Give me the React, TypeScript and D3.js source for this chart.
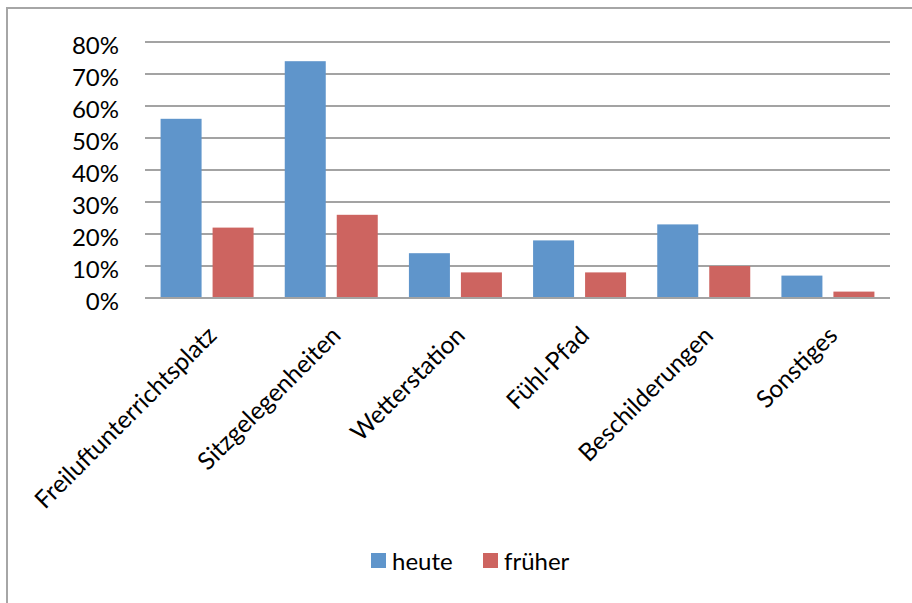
import React from "react";
import * as d3 from "d3";

const categories = [
  "Freiluftunterrichtsplatz",
  "Sitzgelegenheiten",
  "Wetterstation",
  "Fühl-Pfad",
  "Beschilderungen",
  "Sonstiges",
];
const seriesNames = ["heute", "früher"];
const heute = [56, 74, 14, 18, 23, 7];
const frueher = [22, 26, 8, 8, 10, 2];
const yTicks = [0, 10, 20, 30, 40, 50, 60, 70, 80];
const colors = ["#5F95CB", "#CD6460"];

const W = 912;
const H = 603;
const FONT = "Lato, 'Open Sans', sans-serif";

export default function App() {
  const x0 = d3.scaleBand<string>().domain(categories).range([145, 890]).padding(0);
  const y = d3.scaleLinear().domain([0, 80]).range([298, 42]);
  const x1 = d3
    .scaleBand<string>()
    .domain(seriesNames)
    .range([-46.5, 46.5])
    .paddingInner(11 / 52)
    .paddingOuter(0);
  const values = [heute, frueher];

  return (
    <svg
      width={W}
      height={H}
      style={{ position: "absolute", left: 0, top: 0, background: "#fff" }}
      fontFamily={FONT}
    >
      <rect x={7} y={8} width={W + 20} height={H + 20} fill="#fff" stroke="#A6A6A6" strokeWidth={2} />

      {yTicks.map((t) => (
        <g key={t}>
          <line x1={145} x2={890} y1={y(t)} y2={y(t)} stroke="#A3A3A3" strokeWidth={2} />
          <text x={119} y={y(t) + 12} textAnchor="end" fontSize={24} fill="#000">
            {`${t}%`}
          </text>
        </g>
      ))}

      {categories.map((c, i) => {
        const cx = (x0(c) ?? 0) + x0.bandwidth() / 2;
        return (
          <g key={c}>
            {seriesNames.map((s, k) => {
              const v = values[k][i];
              const bx = cx + (x1(s) ?? 0);
              return (
                <rect
                  key={s}
                  x={bx}
                  y={y(v)}
                  width={x1.bandwidth()}
                  height={y(0) - y(v)}
                  fill={colors[k]}
                />
              );
            })}
          </g>
        );
      })}

      <line x1={145} x2={890} y1={y(0)} y2={y(0)} stroke="#A3A3A3" strokeWidth={2} />

      {categories.map((c) => {
        const cx = (x0(c) ?? 0) + x0.bandwidth() / 2;
        return (
          <text
            key={c}
            transform={`translate(${cx + 11},${337}) rotate(-45)`}
            textAnchor="end"
            fontSize={24.5}
            fill="#000"
          >
            {c}
          </text>
        );
      })}

      {seriesNames.map((s, k) => {
        const lx = [371, 483][k];
        return (
          <g key={s}>
            <rect x={lx} y={553} width={15} height={15} fill={colors[k]} />
            <text x={lx + 21} y={570} fontSize={24} fill="#000">
              {s}
            </text>
          </g>
        );
      })}
    </svg>
  );
}
